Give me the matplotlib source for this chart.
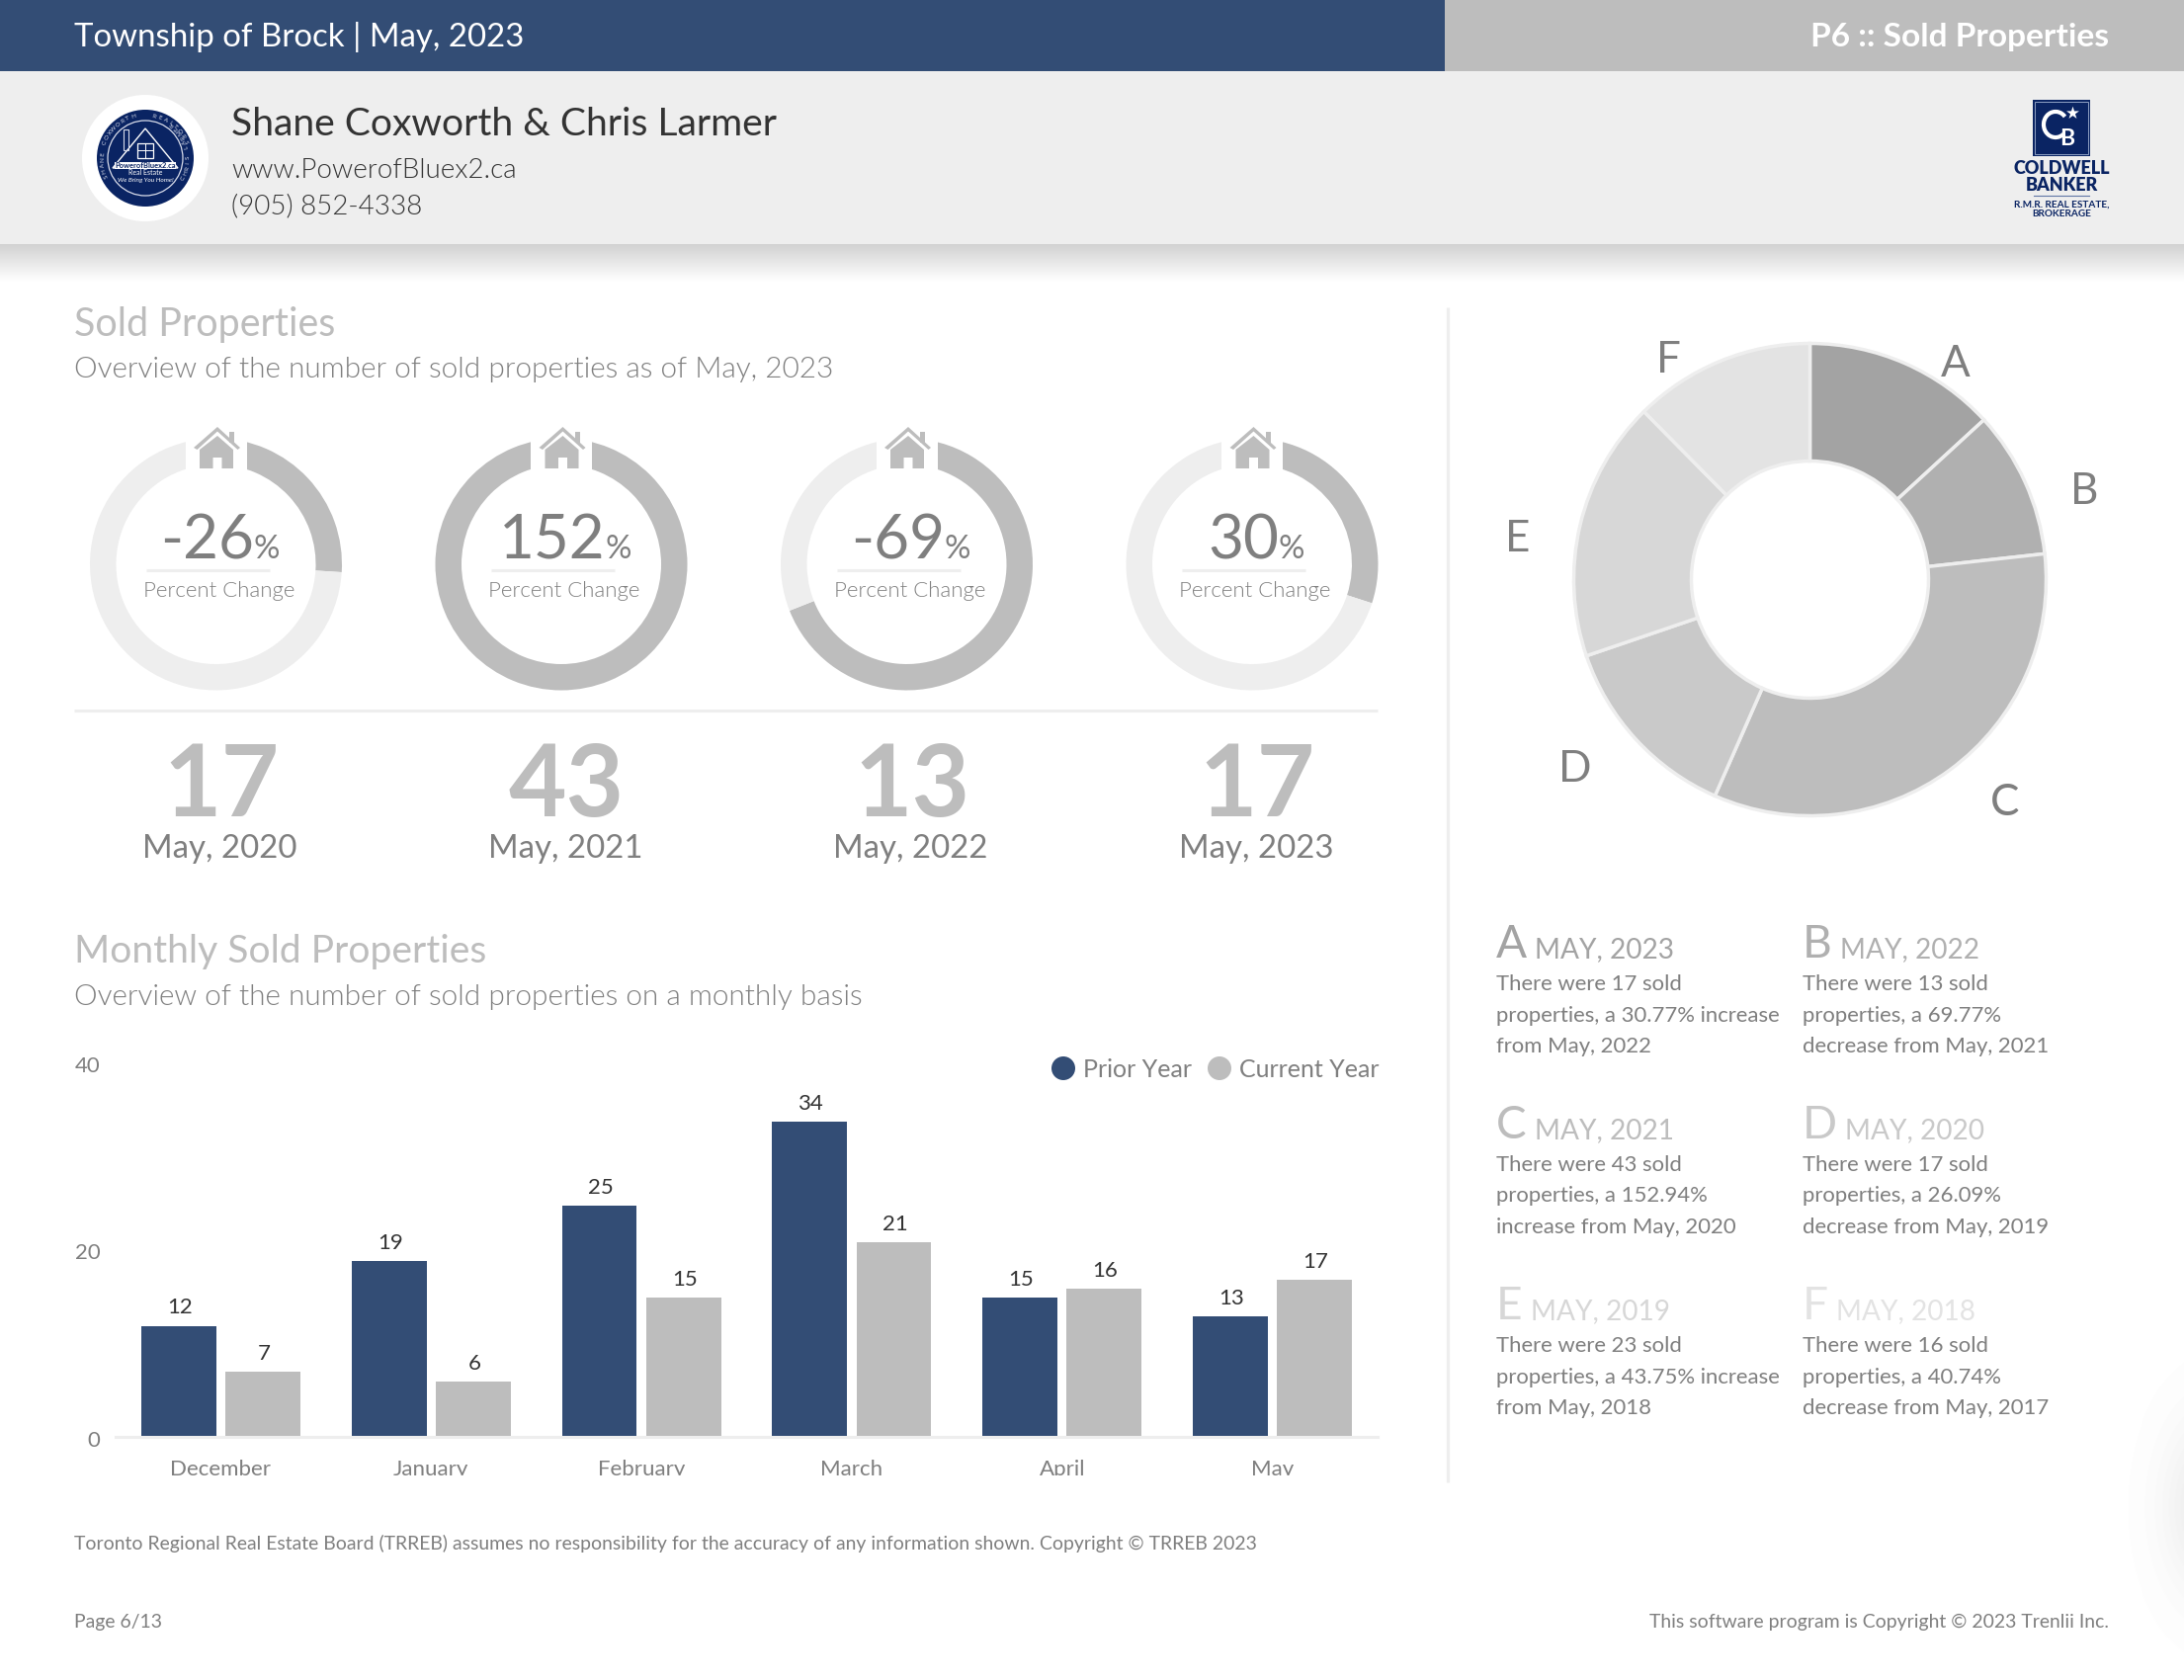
import numpy as np
import matplotlib
matplotlib.use('Agg')
import matplotlib.pyplot as plt
from matplotlib import font_manager as fm
from matplotlib.patches import Arc, Circle, Polygon, Rectangle
from matplotlib.transforms import ScaledTranslation

plt.rcParams['font.family'] = ['Lato', 'DejaVu Sans']

# data
MONTHS = ['December', 'January', 'February', 'March', 'April', 'May']
PRIOR_YEAR = [12, 19, 25, 34, 15, 13]
CURRENT_YEAR = [7, 6, 15, 21, 16, 17]

PERCENT_CHANGE = [-26, 152, -69, 30]
YEAR_COUNTS = [17, 43, 13, 17]
YEAR_LABELS = ['May, 2020', 'May, 2021', 'May, 2022', 'May, 2023']

PIE_LETTERS = ['A', 'B', 'C', 'D', 'E', 'F']
PIE_VALUES = [17, 13, 43, 17, 23, 16]
PIE_YEARS = ['MAY, 2023', 'MAY, 2022', 'MAY, 2021', 'MAY, 2020', 'MAY, 2019', 'MAY, 2018']
PIE_TEXT = [
    ['There were 17 sold', 'properties, a 30.77% increase', 'from May, 2022'],
    ['There were 13 sold', 'properties, a 69.77%', 'decrease from May, 2021'],
    ['There were 43 sold', 'properties, a 152.94%', 'increase from May, 2020'],
    ['There were 17 sold', 'properties, a 26.09%', 'decrease from May, 2019'],
    ['There were 23 sold', 'properties, a 43.75% increase', 'from May, 2018'],
    ['There were 16 sold', 'properties, a 40.74%', 'decrease from May, 2017'],
]

NAVY = '#334d75'
LOGO_NAVY = '#0a2463'
GREY = '#bdbdbd'
PALE = '#eeeeee'
TEXT = '#7f7f7f'
DARK = '#333333'
PIE_COLORS = ['#a3a3a3', '#b0b0b0', '#bdbdbd', '#c9c9c9', '#d7d7d7', '#e3e3e3']

# weight='light' lands on the hairline cut, so look the light file up by name
LIGHT_FILES = [f.fname for f in fm.fontManager.ttflist
               if f.name.startswith('Lato') and f.fname.endswith('Lato-Light.ttf')]

W, H = 2210, 1700
fig = plt.figure(figsize=(W / 100, H / 100), dpi=100, facecolor='white')


def px_axes(left, top, width, height, zorder=1):
    ax = fig.add_axes([left / W, 1 - (top + height) / H, width / W, height / H], zorder=zorder)
    return ax


def overlay(zorder):
    ax = px_axes(0, 0, W, H, zorder)
    ax.set_xlim(0, W)
    ax.set_ylim(H, 0)
    ax.axis('off')
    ax.patch.set_alpha(0)
    return ax


def put(ax, x, y, s, size, color=TEXT, ha='left', weight='normal', **kw):
    # size is in pixels, y is the baseline
    return ax.text(x, y, s, fontsize=size * 0.72, color=color, ha=ha, va='baseline', weight=weight, **kw)


def put_light(ax, x, y, s, size, color=TEXT, ha='left'):
    if LIGHT_FILES:
        prop = fm.FontProperties(fname=LIGHT_FILES[0], size=size * 0.72)
        return ax.text(x, y, s, fontproperties=prop, color=color, ha=ha, va='baseline')
    return put(ax, x, y, s, size, color, ha)


def text_width(t):
    return t.get_window_extent(fig.canvas.get_renderer()).width


bg = overlay(0)
fg = overlay(5)

# header bands
bg.add_patch(Rectangle((0, 0), 1462, 72, color=NAVY, lw=0))
bg.add_patch(Rectangle((1462, 0), W - 1462, 72, color=GREY, lw=0))
bg.add_patch(Rectangle((0, 72), W, 175, color=PALE, lw=0))
shade = np.linspace(0.82, 1.0, 64).reshape(-1, 1)
bg.imshow(shade, extent=(0, W, 285, 247), cmap='gray', vmin=0, vmax=1, aspect='auto', zorder=0.5)

# soft blob on the right edge
yy, xx = np.mgrid[1370:1700, 2130:2210]
blob = 1 - 0.08 * np.exp(-((xx - 2240) / 50.0) ** 2 - ((yy - 1525) / 90.0) ** 2)
bg.imshow(blob, extent=(2130, 2210, 1700, 1370), cmap='gray', vmin=0, vmax=1, aspect='auto', zorder=0.5)
bg.set_xlim(0, W)
bg.set_ylim(H, 0)

put(bg, 75, 47, 'Township of Brock | May, 2023', 33, 'white')
put(bg, 2134, 47, 'P6 :: Sold Properties', 33.5, 'white', ha='right', weight='bold')
put(bg, 234, 137, 'Shane Coxworth & Chris Larmer', 39, DARK)
put_light(bg, 234, 180, 'www.PowerofBluex2.ca', 27.8, DARK)
put_light(bg, 234, 216, '(905) 852-4338', 27.8, DARK)

# agent logo
cx, cy = 147, 160
bg.add_patch(Circle((cx, cy), 64, color='white', lw=0))
bg.add_patch(Circle((cx, cy), 49, color=LOGO_NAVY, lw=0))
bg.add_patch(Circle((cx, cy), 38, fill=False, ec='#d8dcea', lw=0.9))
bg.add_patch(Polygon([(147, 130), (114, 170), (180, 170)], closed=True, fill=False, ec='white', lw=1))
bg.add_patch(Rectangle((125, 131), 5, 21, fill=False, ec='#d8dcea', lw=0.8))
bg.add_patch(Rectangle((139, 145), 16, 15, fill=False, ec='white', lw=0.9))
bg.plot([147, 147], [145, 160], color='white', lw=0.7)
bg.plot([139, 155], [152, 152], color='white', lw=0.7)
bg.add_patch(Rectangle((116, 164), 62, 6.5, color='white', lw=0))
put(bg, 147, 169.5, 'PowerofBluex2.ca', 7.5, LOGO_NAVY, ha='center', weight='bold')
put(bg, 147, 177, 'Real Estate', 7, 'white', ha='center')
put(bg, 147, 184, 'We Bring You Home!', 6.5, 'white', ha='center', style='italic')


def ring_text(s, start_deg, step_deg, radius=43.5, flip=False):
    # letters laid one by one round the seal
    for i, ch in enumerate(s):
        ang = np.radians(start_deg + i * step_deg)
        x = cx + radius * np.sin(ang)
        y = cy - radius * np.cos(ang)
        rot = -np.degrees(ang) + (180 if flip else 0)
        bg.text(x, y, ch, fontsize=4.6, color='#d8dcea', ha='center', va='center', rotation=rot)


ring_text('SHANE COXWORTH', -115, 7.6)
ring_text('REALTORS', 12, 8)
ring_text('CHRIS LARMER', 118, -7.2, flip=True)

# brokerage logo
bg.add_patch(Rectangle((2057, 101), 58, 57, color=LOGO_NAVY, lw=0))
bg.add_patch(Rectangle((2059, 103), 54, 53, fill=False, ec='#8fa0c4', lw=0.7))
bg.add_patch(Arc((2080, 126), 24, 26, theta1=50, theta2=320, color='white', lw=3))
put(bg, 2092, 147, 'B', 23, 'white', ha='center', weight='bold')
bg.scatter([2097], [114], marker='*', s=95, color='white', lw=0)
put(bg, 2086.5, 176, 'COLDWELL', 18, LOGO_NAVY, ha='center', weight='heavy')
put(bg, 2086.5, 192.5, 'BANKER', 18, LOGO_NAVY, ha='center', weight='heavy')
bg.plot([2058, 2114], [198, 198], color='#6077a6', lw=0.8)
put(bg, 2086.5, 210, 'R.M.R. REAL ESTATE,', 10, LOGO_NAVY, ha='center', weight='bold')
put(bg, 2086.5, 218.5, 'BROKERAGE', 10, LOGO_NAVY, ha='center', weight='bold')

# section titles
put(bg, 75, 340, 'Sold Properties', 39.5, GREY)
put_light(bg, 75, 382, 'Overview of the number of sold properties as of May, 2023', 29.8, TEXT)
put(bg, 75, 974, 'Monthly Sold Properties', 39, GREY)
put_light(bg, 75, 1017, 'Overview of the number of sold properties on a monthly basis', 29.8, TEXT)

# four small rings
RING_X = [218.5, 568, 917.5, 1267]
RING_Y = 571
RING_R = 127.5
for i, pct in enumerate(PERCENT_CHANGE):
    fill = min(abs(pct), 100)
    ax = px_axes(RING_X[i] - RING_R, RING_Y - RING_R, 2 * RING_R, 2 * RING_R, 2)
    ax.pie([fill, 100 - fill], startangle=90, counterclock=False, colors=[GREY, PALE], radius=1,
           wedgeprops={'width': 26.5 / RING_R, 'linewidth': 0})
    ax.set_xlim(-1, 1)
    ax.set_ylim(-1, 1)

    x0 = RING_X[i]
    # white notch and house on top of the ring
    fg.add_patch(Rectangle((x0 - 31, 436), 62, 40, color='white', lw=0))
    fg.add_patch(Polygon([(x0 + 1.5, 432), (x0 + 24.5, 453), (x0 + 22, 455), (x0 + 1.5, 436.5),
                          (x0 - 19, 455), (x0 - 22.5, 453)], closed=True, color=GREY, lw=0))
    fg.add_patch(Polygon([(x0 + 1.5, 441), (x0 + 17.5, 455), (x0 + 17.5, 474), (x0 + 6, 474), (x0 + 6, 463),
                          (x0 - 3, 463), (x0 - 3, 474), (x0 - 16.5, 474), (x0 - 16.5, 455)],
                         closed=True, color=GREY, lw=0))
    fg.add_patch(Rectangle((x0 + 13.5, 437), 5, 11, color=GREY, lw=0))

    # number and small % sign
    num = put(fg, 0, 565, str(pct), 62, TEXT)
    sign = put(fg, 0, 565, '%', 33, TEXT)
    wn, ws = text_width(num), text_width(sign)
    left = x0 + 4 - (wn + ws) / 2
    num.set_x(left)
    sign.set_x(left + wn)
    fg.plot([x0 - 71, x0 + 54], [577, 577], color=PALE, lw=2.2, solid_capstyle='butt')
    put_light(fg, x0 + 3, 603.5, 'Percent Change', 22.3, TEXT, ha='center')

    put(bg, x0 + 5, 826, str(YEAR_COUNTS[i]), 101, GREY, ha='center', weight='bold')
    put(bg, x0 + 4, 868, YEAR_LABELS[i], 33, TEXT, ha='center')

bg.plot([75, 1394], [719, 719], color=PALE, lw=2.2, solid_capstyle='butt')
bg.plot([1465, 1465], [311, 1500], color=PALE, lw=2.4, solid_capstyle='butt')

# monthly bars
BAR_LEFT, BAR_RIGHT, BAR_ZERO, BAR_TOP = 117, 1394, 1454, 1079
ax = px_axes(BAR_LEFT, BAR_TOP, BAR_RIGHT - BAR_LEFT, BAR_ZERO - BAR_TOP, 2)
ax.patch.set_alpha(0)
xs = np.arange(len(MONTHS))
bars_a = ax.bar(xs - 0.2, PRIOR_YEAR, width=0.356, color=NAVY)
bars_b = ax.bar(xs + 0.2, CURRENT_YEAR, width=0.356, color=GREY)
ax.set_xlim(-0.5, 5.5)
ax.set_ylim(0, 40)
for bars in (bars_a, bars_b):
    for b in bars:
        ax.annotate(str(int(b.get_height())), (b.get_x() + b.get_width() / 2, b.get_height()),
                    xytext=(0.7, 8.7), textcoords='offset points', ha='center', va='baseline',
                    fontsize=16, color=DARK, annotation_clip=False)
for side in ('top', 'right', 'left'):
    ax.spines[side].set_visible(False)
ax.spines['bottom'].set_color(PALE)
ax.spines['bottom'].set_linewidth(2.2)
ax.set_yticks([0, 20, 40])
ax.set_xticks(xs)
ax.set_xticklabels(MONTHS)
ax.tick_params(axis='both', length=0, labelsize=16, labelcolor=TEXT)
ax.tick_params(axis='y', pad=11)
ax.tick_params(axis='x', pad=16.5)
for lab, nudge in zip(ax.get_yticklabels(), [2, 0, -2]):
    lab.set_transform(lab.get_transform() + ScaledTranslation(0, -nudge / 100, fig.dpi_scale_trans))

# month names are cut off at the bottom in the report
fg.add_patch(Rectangle((117, 1493), 1290, 20, color='white', lw=0))

# legend
bg.scatter([1076, 1234], [1081, 1081], s=(24 * 0.72) ** 2, color=[NAVY, GREY], lw=0)
put(bg, 1096.5, 1090.5, 'Prior Year', 25, TEXT)
put(bg, 1254, 1090.5, 'Current Year', 25, TEXT)

# share donut
PIE_X, PIE_Y, PIE_R = 1831.5, 586.5, 239
ax = px_axes(PIE_X - PIE_R, PIE_Y - PIE_R, 2 * PIE_R, 2 * PIE_R, 2)
ax.pie(PIE_VALUES, startangle=90, counterclock=False, colors=PIE_COLORS, radius=1,
       wedgeprops={'width': 119 / PIE_R, 'linewidth': 2.5, 'edgecolor': PALE})
ax.set_xlim(-1, 1)
ax.set_ylim(-1, 1)
LETTER_POS = [(1979, 381), (2109, 510), (2029, 825), (1594, 791), (1536, 558), (1688, 377)]
for letter, pos in zip(PIE_LETTERS, LETTER_POS):
    put(bg, pos[0], pos[1], letter, 44, TEXT, ha='center')

# notes under the donut
COL_X = [1514, 1824]
ROW_Y = [969, 1152, 1335]
for i, letter in enumerate(PIE_LETTERS):
    x = COL_X[i % 2]
    y = ROW_Y[i // 2]
    head = put(bg, x, y, letter, 46, PIE_COLORS[i])
    put(bg, x + text_width(head) + 8, y, PIE_YEARS[i], 28, PIE_COLORS[i])
    for j, line in enumerate(PIE_TEXT[i]):
        put(bg, x, y + 33 + j * 31.5, line, 22.2, TEXT)

# footer
put(bg, 75, 1568, 'Toronto Regional Real Estate Board (TRREB) assumes no responsibility for the accuracy '
    'of any information shown. Copyright © TRREB 2023', 19.4, TEXT)
put(bg, 75, 1647, 'Page 6/13', 19.4, TEXT)
put(bg, 2134, 1647, 'This software program is Copyright © 2023 Trenlii Inc.', 19.4, TEXT, ha='right')

fig.savefig('out.png', dpi=100)
